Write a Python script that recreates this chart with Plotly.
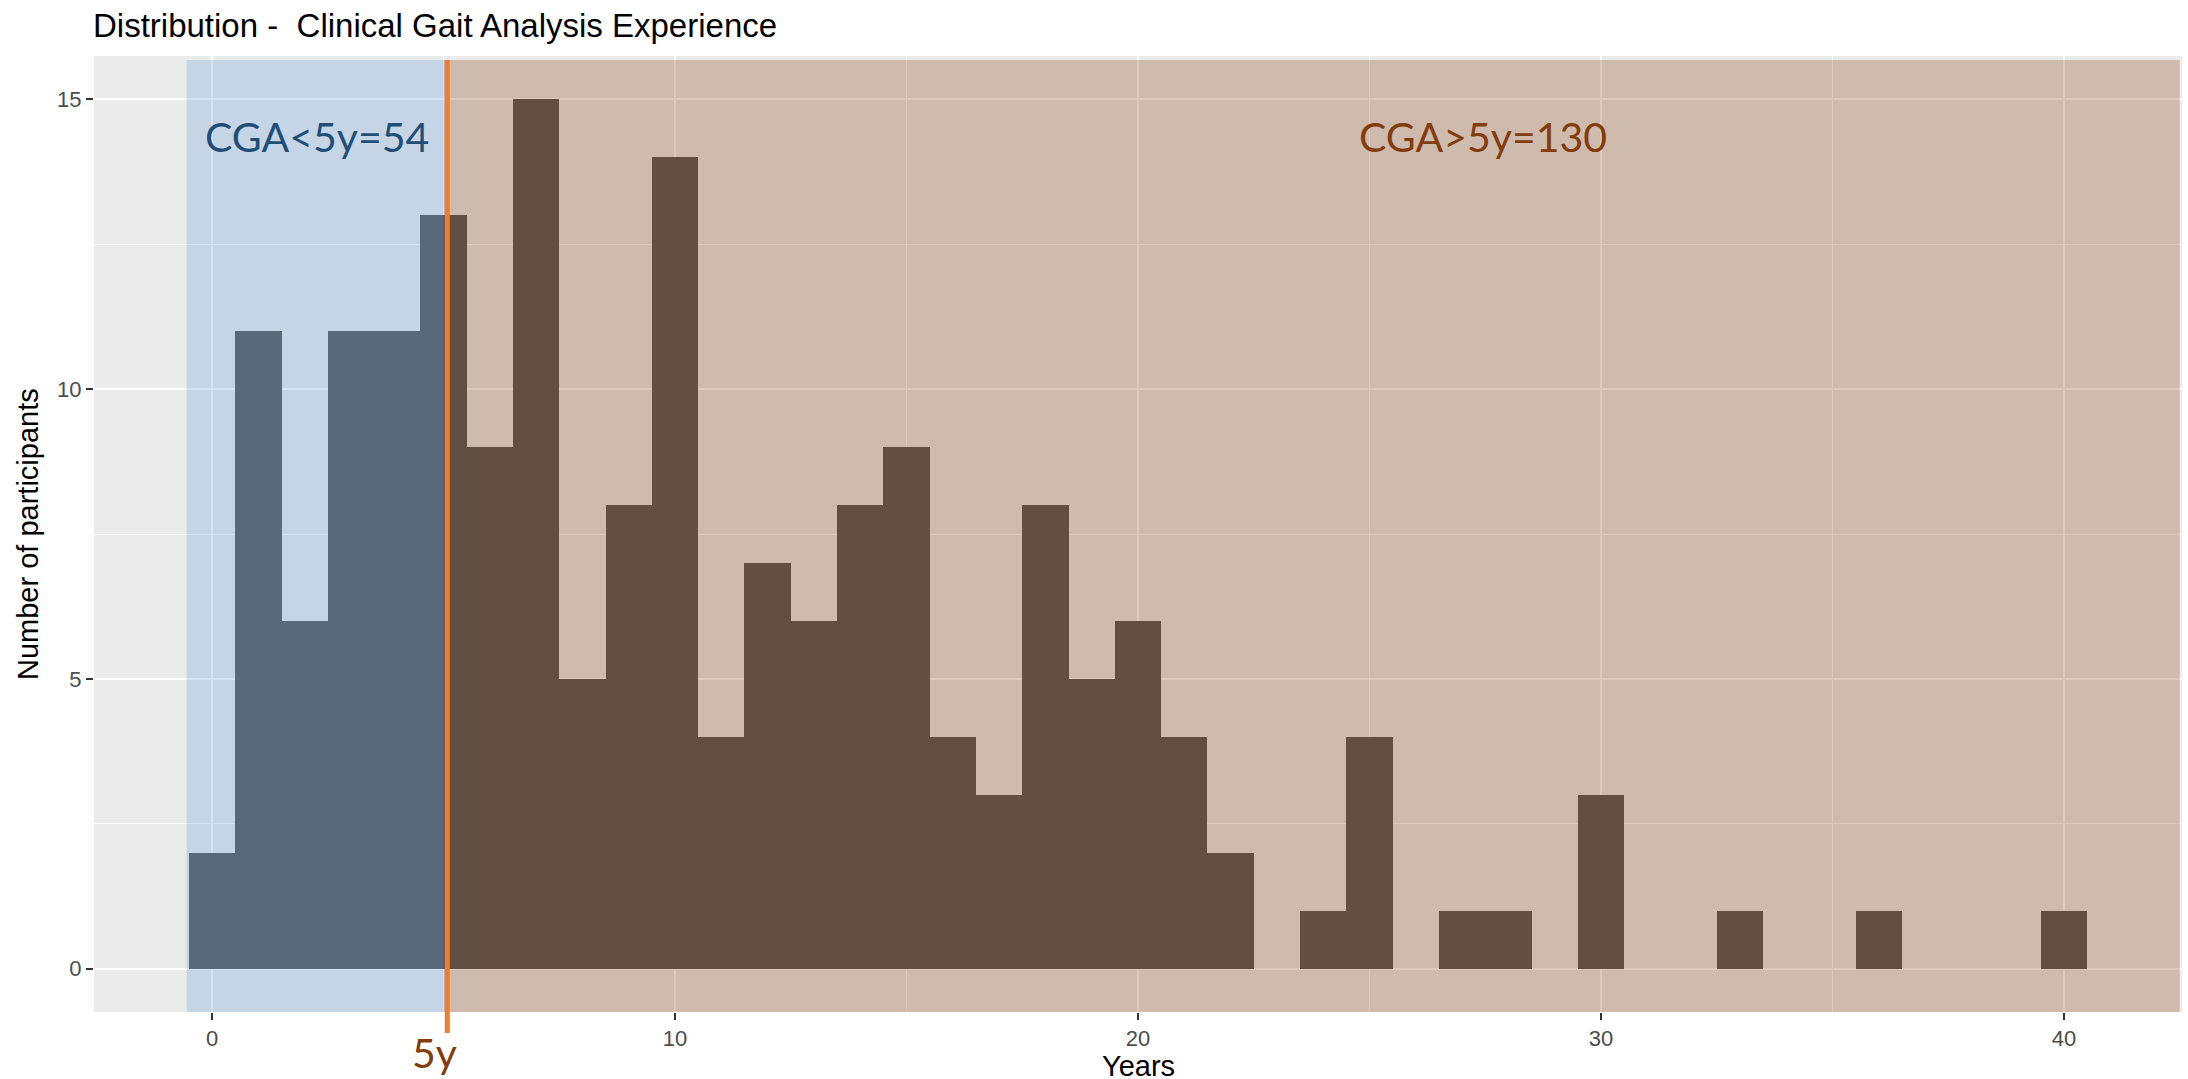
import plotly.graph_objects as go

# ---- data ----
years = list(range(0, 41))
counts = [2, 11, 6, 11, 11, 13, 9, 15, 5, 8, 14, 4, 7, 6, 8, 9, 4, 3, 8, 5, 6,
          4, 2, 0, 1, 4, 0, 1, 1, 0, 3, 0, 0, 1, 0, 0, 1, 0, 0, 0, 1]
threshold = 5
label_low = "CGA<5y=54"
label_high = "CGA>5y=130"
label_threshold = "5y"
x_ticks = [0, 10, 20, 30, 40]
y_ticks = [0, 5, 10, 15]

x_range = [-2.55, 42.55]
y_range = [-0.75, 15.75]

W, H = 2188, 1079
ML, MR, MT, MB = 94, 6, 56, 67
PW, PH = W - ML - MR, H - MT - MB

fig = go.Figure()
fig.add_trace(go.Bar(
    x=years, y=counts, width=1,
    marker=dict(color="#595959", line=dict(width=0)),
    hoverinfo="x+y", showlegend=False,
))

# shaded regions (drawn over the bars, like ggplot annotate rect with alpha)
fig.add_shape(type="rect", xref="x", yref="y", layer="above",
              x0=-0.55, x1=threshold, y0=-0.77, y1=15.68,
              fillcolor="rgba(89,150,212,0.26)", line=dict(width=0))
fig.add_shape(type="rect", xref="x", yref="y", layer="above",
              x0=threshold, x1=42.5, y0=-0.77, y1=15.68,
              fillcolor="rgba(127,47,0,0.26)", line=dict(width=0))

# threshold line extending below the axis
fig.add_shape(type="line", xref="x", yref="paper", layer="above",
              x0=threshold + 0.08, x1=threshold + 0.08,
              y0=-(1033 - (H - MB)) / PH, y1=1 - 4 / PH,
              line=dict(color="#ED7D31", width=5))

ann_font = "Lato, Carlito, sans-serif"
fig.add_annotation(x=2.27, y=14.36, xref="x", yref="y", text=label_low,
                   showarrow=False, font=dict(family=ann_font, size=41, color="#1F4E79"))
fig.add_annotation(x=27.46, y=14.36, xref="x", yref="y", text=label_high,
                   showarrow=False, font=dict(family=ann_font, size=41, color="#843C0C"))
fig.add_annotation(x=threshold - 0.2, y=-(1052 - (H - MB)) / PH, xref="x", yref="paper",
                   text=label_threshold, showarrow=False, yanchor="middle",
                   font=dict(family=ann_font, size=41, color="#843C0C"))

sans = "Liberation Sans, Arial, sans-serif"
axis_font = dict(family=sans, size=22, color="#4D4D4D")
title_font = dict(family=sans, size=29, color="#000000")

# axis titles
fig.add_annotation(x=0.5, y=-(1066 - (H - MB)) / PH, xref="paper", yref="paper",
                   text="Years", showarrow=False, xanchor="center", yanchor="middle",
                   font=title_font, borderpad=0)
fig.add_annotation(x=-(ML - 28) / PW, y=0.5, xref="paper", yref="paper",
                   text="Number of participants", showarrow=False, textangle=-90,
                   xanchor="center", yanchor="middle", font=title_font)

fig.update_layout(
    width=W, height=H,
    margin=dict(l=ML, r=MR, t=MT, b=MB, autoexpand=False),
    paper_bgcolor="white", plot_bgcolor="#EBEBEB",
    bargap=0,
    title=dict(text="Distribution -  Clinical Gait Analysis Experience",
               x=93 / W, xanchor="left", xref="container",
               y=1 - 25 / H, yanchor="middle", yref="container",
               font=dict(family=sans, size=33, color="#000000")),
    xaxis=dict(range=x_range, tickmode="array", tickvals=x_ticks,
               ticks="outside", ticklen=7, tickwidth=2, tickcolor="#333333",
               tickfont=axis_font, showgrid=True, gridcolor="white", gridwidth=2,
               zeroline=False, showline=False, automargin=False,
               minor=dict(dtick=5, tick0=0, showgrid=True, gridcolor="white",
                          gridwidth=1, ticks="")),
    yaxis=dict(range=y_range, tickmode="array", tickvals=y_ticks,
               ticks="outside", ticklen=7, tickwidth=2, tickcolor="#333333",
               tickfont=axis_font, showgrid=True, gridcolor="white", gridwidth=2,
               zeroline=False, showline=False, automargin=False,
               minor=dict(dtick=2.5, tick0=0, showgrid=True, gridcolor="white",
                          gridwidth=1, ticks="")),
)

fig.write_html("out.html",
               config={"displayModeBar": False},
               post_script="document.body.style.margin='0';")
